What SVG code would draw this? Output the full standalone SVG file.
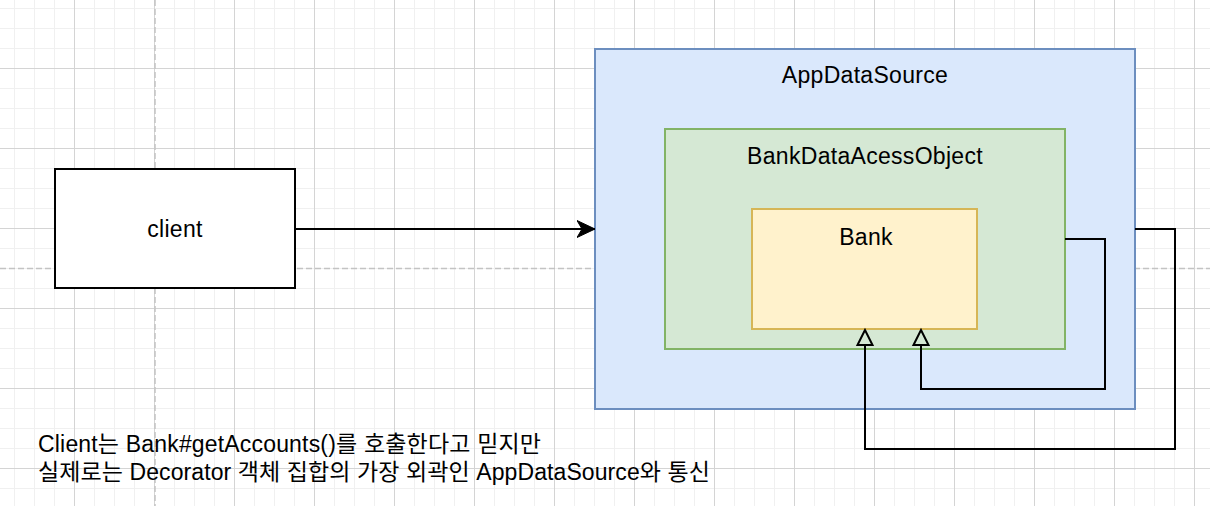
<svg xmlns="http://www.w3.org/2000/svg" width="1210" height="506" viewBox="0 0 1210 506">
  <style>
    .lbl { font-family: "Liberation Sans", Arial, "Noto Sans CJK KR", sans-serif; font-size: 23px; letter-spacing: 0.3px; fill: #000; text-anchor: middle; }
    .note { font-family: "Liberation Sans", Arial, "Noto Sans CJK KR", sans-serif; font-size: 23px; fill: #000; }
    .conn { fill: none; stroke: #000; stroke-width: 2; }
    .pb { stroke: #c3c3c3; stroke-width: 1.5; stroke-dasharray: 6 3; }
  </style>
  <defs>
    <pattern id="grid" patternUnits="userSpaceOnUse" x="74" y="68" width="80" height="80">
      <rect x="20" y="0" width="1" height="80" fill="#f0f0f0"/>
      <rect x="40" y="0" width="1" height="80" fill="#f0f0f0"/>
      <rect x="60" y="0" width="1" height="80" fill="#f0f0f0"/>
      <rect x="0" y="20" width="80" height="1" fill="#f0f0f0"/>
      <rect x="0" y="40" width="80" height="1" fill="#f0f0f0"/>
      <rect x="0" y="60" width="80" height="1" fill="#f0f0f0"/>
      <rect x="0" y="0" width="1" height="80" fill="#d4d4d4"/>
      <rect x="0" y="0" width="80" height="1" fill="#d4d4d4"/>
    </pattern>
    <marker id="classic" viewBox="0 0 19 18" markerWidth="19" markerHeight="18" refX="18" refY="9" orient="auto" markerUnits="userSpaceOnUse">
      <path d="M0,0.5 L18,9 L0,17.5 L5,9 Z" fill="#000" stroke="#000" stroke-width="1"/>
    </marker>
    <marker id="hollow" viewBox="-2 -10 20 20" markerWidth="20" markerHeight="20" refX="0" refY="0" orient="auto" markerUnits="userSpaceOnUse">
      <path d="M0,-7.5 L15,0 L0,7.5 Z" fill="none" stroke="#000" stroke-width="2" stroke-linejoin="miter"/>
    </marker>
  </defs>

  <g id="background">
    <rect x="0" y="0" width="1210" height="506" fill="#ffffff"/>
    <rect x="0" y="0" width="1210" height="506" fill="url(#grid)"/>
    <line class="pb" x1="155" y1="0" x2="155" y2="506"/>
    <line class="pb" x1="0" y1="268.5" x2="1210" y2="268.5"/>
  </g>

  <g id="client">
    <rect x="55" y="169" width="240" height="119" fill="#ffffff" stroke="#000000" stroke-width="2"/>
    <text class="lbl" x="175" y="237">client</text>
  </g>

  <g id="AppDataSource">
    <rect x="595" y="49" width="540" height="360" fill="#dae8fc" stroke="#6c8ebf" stroke-width="2"/>
    <text class="lbl" x="865" y="83">AppDataSource</text>
  </g>

  <g id="BankDataAcessObject">
    <rect x="665" y="129" width="400" height="220" fill="#d5e8d4" stroke="#82b366" stroke-width="2"/>
    <text class="lbl" x="865" y="164">BankDataAcessObject</text>
  </g>

  <g id="Bank">
    <rect x="752" y="209" width="225" height="120" fill="#fff2cc" stroke="#d6b656" stroke-width="2"/>
    <text class="lbl" x="866" y="245">Bank</text>
  </g>

  <g id="connectors">
    <path class="conn" d="M295,229 H595" marker-end="url(#classic)"/>
    <path class="conn" d="M1065,239 H1105 V389 H921 V345" marker-end="url(#hollow)"/>
    <path class="conn" d="M1135,229 H1175 V449 H865 V345" marker-end="url(#hollow)"/>
  </g>

  <g id="note">
    <text class="note" x="38" y="452" textLength="503" lengthAdjust="spacing">Client는 Bank#getAccounts()를 호출한다고 믿지만</text>
    <text class="note" x="38" y="480" textLength="672" lengthAdjust="spacing">실제로는 Decorator 객체 집합의 가장 외곽인 AppDataSource와 통신</text>
  </g>
</svg>
